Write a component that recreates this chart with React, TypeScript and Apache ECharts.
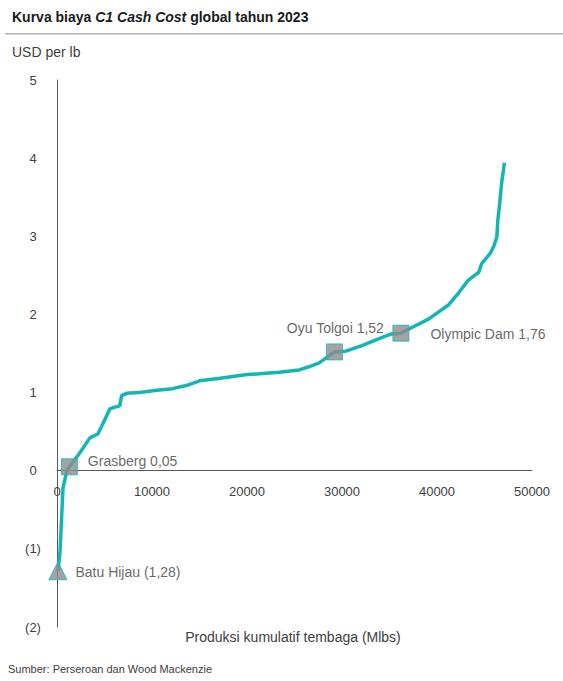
import React, { useEffect, useRef } from "react";
import * as echarts from "echarts";

const titleParts = ["Kurva biaya ", "C1 Cash Cost", " global tahun 2023"];
const yAxisTitle = "USD per lb";
const xAxisTitle = "Produksi kumulatif tembaga (Mlbs)";
const sourceText = "Sumber: Perseroan dan Wood Mackenzie";

const costX = [100, 315, 630, 1050, 1300, 2410, 3460, 4300, 4830, 5560, 6000, 6600, 6800, 7340, 8700, 10500, 12170, 13600, 15000, 17000, 20000, 21300, 23400, 25500, 26500, 27600, 29200, 30400, 32100, 33900, 35200, 36200, 37300, 39100, 41200, 42300, 43300, 44400, 44700, 45600, 46000, 46300, 46400, 46600, 46800, 47100];
const costY = [-1.28, -1.05, -0.22, 0.0, 0.05, 0.23, 0.42, 0.47, 0.6, 0.79, 0.81, 0.83, 0.96, 0.99, 1.0, 1.03, 1.05, 1.09, 1.15, 1.18, 1.23, 1.24, 1.26, 1.29, 1.33, 1.38, 1.52, 1.53, 1.6, 1.69, 1.75, 1.76, 1.83, 1.94, 2.12, 2.28, 2.44, 2.54, 2.65, 2.78, 2.88, 2.99, 3.2, 3.42, 3.68, 3.94];

const mineNames = ["Batu Hijau", "Grasberg", "Oyu Tolgoi", "Olympic Dam"];
const mineX = [100, 1300, 29200, 36200];
const mineY = [-1.28, 0.05, 1.52, 1.76];
const mineLabels = ["Batu Hijau (1,28)", "Grasberg 0,05", "Oyu Tolgoi 1,52", "Olympic Dam 1,76"];

const yTicksMin = -2;
const yTicksMax = 5;
const xTicksMax = 50000;

export default function App() {
  const ref = useRef<HTMLDivElement>(null);
  useEffect(() => {
    const chart = echarts.init(ref.current!, null, { renderer: "svg" });
    const font = "Liberation Sans, Arial, sans-serif";
    const labelColor = "#404040";
    const lineData = costX.map((x, i) => [x, costY[i]]);
    const symbols = ["triangle", "rect", "rect", "rect"];
    const sizes = [18, 16, 16, 16];
    const positions: any[] = [[27, 11], [27, 3], [58, -15], [38, 9]];
    const aligns = ["left", "left", "right", "left"];
    const markers = mineX.map((x, i) => ({
      value: [x, mineY[i]],
      name: mineNames[i],
      symbol: symbols[i],
      symbolSize: sizes[i],
      label: {
        show: true,
        formatter: mineLabels[i],
        position: positions[i],
        align: aligns[i],
        verticalAlign: "middle",
        fontSize: 14,
        fontFamily: font,
        color: labelColor,
      },
    }));
    // x axis sits at y = 0: offset from the grid bottom (value -2) to 0
    const plotH = 681 - 80 - 54;
    const zeroOffset = (plotH * (0 - yTicksMin)) / (yTicksMax - yTicksMin);
    chart.setOption({
      animation: false,
      grid: { left: 57, right: 31, top: 80, bottom: 54, containLabel: false },
      xAxis: {
        type: "value",
        min: 0,
        max: xTicksMax,
        interval: 10000,
        position: "bottom",
        offset: -zeroOffset,
        axisLine: { show: true, onZero: false, lineStyle: { color: "#595959", width: 1 } },
        axisTick: { show: false },
        splitLine: { show: false },
        axisLabel: {
          fontSize: 13,
          fontFamily: font,
          color: labelColor,
          margin: 14,
          formatter: (v: number) => `${v}`,
        },
      },
      yAxis: {
        type: "value",
        min: yTicksMin,
        max: yTicksMax,
        interval: 1,
        axisLine: { show: true, onZero: false, lineStyle: { color: "#595959", width: 1 } },
        axisTick: { show: false },
        splitLine: { show: false },
        axisLabel: {
          fontSize: 13,
          fontFamily: font,
          color: labelColor,
          align: "center",
          margin: 24,
          formatter: (v: number) => (v < 0 ? `(${-v})` : `${v}`),
        },
      },
      series: [
        {
          type: "line",
          data: lineData,
          showSymbol: false,
          lineStyle: { color: "#14b5b5", width: 3.5 },
          z: 2,
        },
        {
          type: "scatter",
          data: markers,
          itemStyle: { color: "#8c8c8c", borderColor: "#14b5b5", borderWidth: 1 },
          z: 3,
        },
      ],
      graphic: [
        {
          type: "text",
          left: 12,
          top: 10,
          style: {
            rich: {
              b: { fontSize: 14, fontWeight: "bold", fontFamily: font, fill: "#1a1a1a" },
              i: { fontSize: 14, fontWeight: "bold", fontStyle: "italic", fontFamily: font, fill: "#1a1a1a" },
            },
            text: `{b|${titleParts[0]}}{i|${titleParts[1]}}{b|${titleParts[2]}}`,
          },
        },
        {
          type: "rect",
          shape: { x: 5, y: 33, width: 558, height: 1.5 },
          style: { fill: "#b3b3b3" },
        },
        {
          type: "text",
          left: 12,
          top: 45,
          style: { text: yAxisTitle, fontSize: 14, fontFamily: font, fill: labelColor },
        },
        {
          type: "text",
          x: 293,
          y: 637,
          style: { text: xAxisTitle, fontSize: 14, fontFamily: font, fill: labelColor, align: "center", verticalAlign: "middle" },
        },
        {
          type: "text",
          left: 8,
          top: 663,
          style: { text: sourceText, fontSize: 11, fontFamily: font, fill: labelColor },
        },
      ],
    });
    return () => chart.dispose();
  }, []);
  return (
    <div
      ref={ref}
      style={{ position: "fixed", left: 0, top: 0, width: 563, height: 681, background: "#fff" }}
    />
  );
}
